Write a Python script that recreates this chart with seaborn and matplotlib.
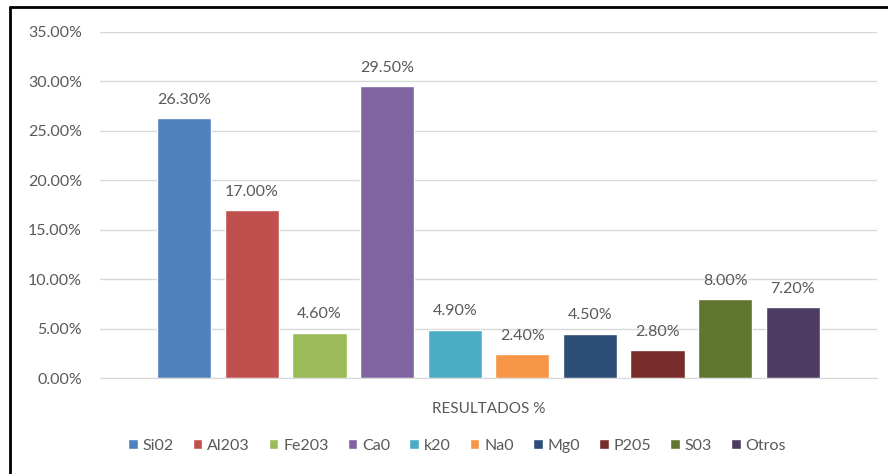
import pandas as pd
import matplotlib.pyplot as plt
import seaborn as sns
from matplotlib.lines import Line2D
from matplotlib.ticker import PercentFormatter

# Composition values (fraction of total)
components = ["Si02", "Al203", "Fe203", "Ca0", "k20", "Na0", "Mg0", "P205", "S03", "Otros"]
values = [0.263, 0.170, 0.046, 0.295, 0.049, 0.024, 0.045, 0.028, 0.080, 0.072]
category = "RESULTADOS %"
colors = ["#4F81BD", "#C0504D", "#9BBB59", "#8064A2", "#4BACC6",
          "#F79646", "#2C4D75", "#772C2A", "#5F7530", "#4D3B62"]

df = pd.DataFrame({"grupo": [category] * len(components),
                   "componente": components,
                   "valor": values})

sns.set_style("white")
plt.rcParams["font.family"] = ["Lato", "DejaVu Sans"]
text_color = "#595959"

fig = plt.figure(figsize=(8.88, 4.74), dpi=100)
ax = fig.add_axes([0.1126, 0.2025, 0.875, 0.730])

sns.barplot(data=df, x="grupo", y="valor", hue="componente",
            palette=colors, width=0.87, gap=0.2, ax=ax,
            saturation=1, legend=True)

for cont in ax.containers:
    ax.bar_label(cont, labels=[f"{v * 100:.2f}%" for v in cont.datavalues],
                 padding=8, fontsize=11.5, color=text_color)

ax.set_ylim(0, 0.35)
ax.set_xlim(-0.5, 0.5)
ax.yaxis.set_major_locator(plt.MultipleLocator(0.05))
ax.yaxis.set_major_formatter(PercentFormatter(1.0, decimals=2))
ax.grid(axis="y", color="#D9D9D9", linewidth=1)
ax.set_axisbelow(True)
ax.set_xlabel("")
ax.set_ylabel("")
ax.tick_params(axis="y", labelsize=11.5, labelcolor=text_color, length=0, pad=13)
ax.tick_params(axis="x", labelsize=11, labelcolor=text_color, length=0, pad=17)
for side in ["top", "right", "left"]:
    ax.spines[side].set_visible(False)
ax.spines["bottom"].set_color("#D9D9D9")

handles, labels = ax.get_legend_handles_labels()
ax.get_legend().remove()
fig.legend(handles, labels, loc="center", bbox_to_anchor=(457 / 888, 1 - 446 / 474),
           ncol=10, frameon=False, fontsize=11.5, handlelength=0.6, handleheight=0.6,
           handletextpad=0.3, columnspacing=1.2, labelcolor=text_color)

# outer frame lines (top and left only)
fig.add_artist(Line2D([0.0113, 1.0], [0.985, 0.985], color="black", linewidth=2))
fig.add_artist(Line2D([0.0113, 0.0113], [0.0, 0.985], color="black", linewidth=2))

fig.savefig("out.png", dpi=100)
